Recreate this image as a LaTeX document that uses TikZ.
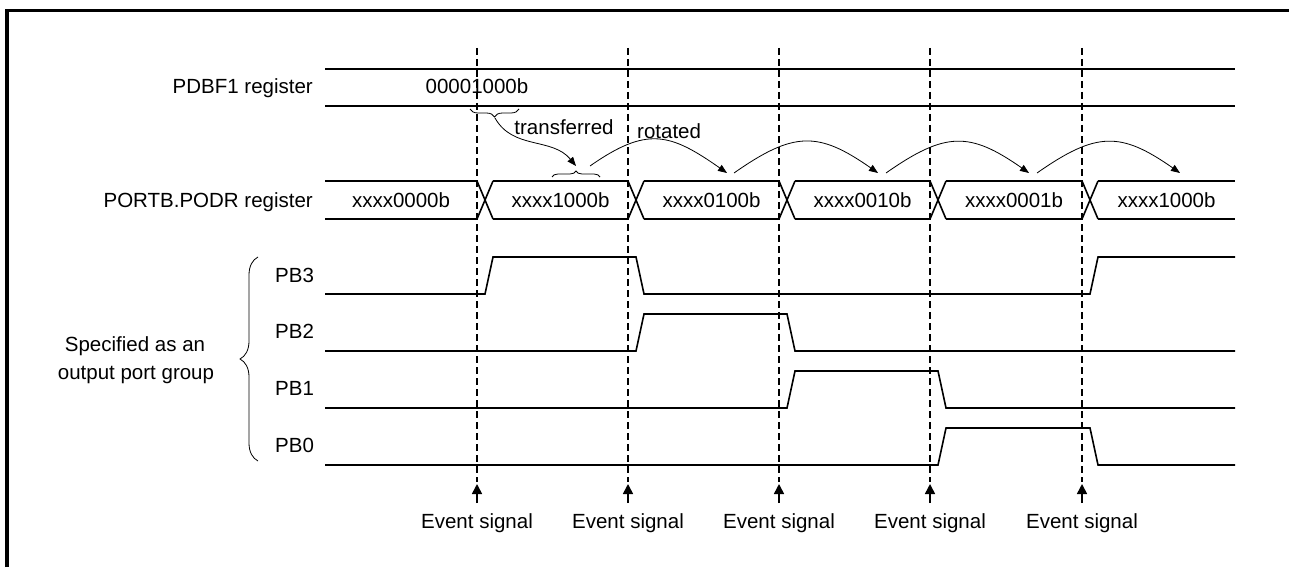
\documentclass[tikz,border=0pt]{standalone}
\usepackage{fontspec}
\setmainfont{Liberation Sans}
\usetikzlibrary{arrows.meta,decorations.pathreplacing}
\tikzset{wave/.style={line width=1.6pt},
  evline/.style={line width=1.6pt, dash pattern=on 7pt off 4pt},
  thinarr/.style={line width=0.8pt, -{Triangle[length=9pt,width=7pt]}},
  evarr/.style={line width=1.6pt, -{Triangle[length=10pt,width=10pt]}},
  brc/.style={decorate, decoration={brace, amplitude=#1}, line width=0.8pt},
  txt/.style={font=\fontsize{20.5}{24}\selectfont, inner sep=0pt}}

\begin{document}
\begin{tikzpicture}[x=1pt,y=1pt]
  \useasboundingbox (0,0) rectangle (1289,-567);
  \draw[line width=3.5pt] (7,-567) -- (7,-10.5) -- (1289,-10.5); % frame, top and left only

  % event lines, arrows and labels
  \foreach \x [count=\i] in {477,628,779,930,1082} {
    \draw[evline] (\x,-48) -- (\x,-482);
    \coordinate (es\i) at (\x,-503);
    \coordinate (et\i) at (\x,-484);
    \draw[evarr] (es\i) -- (et\i);
    \node[txt, anchor=base] (ev\i) at (\x,-528) {Event signal};
  }

  % PDBF1 register
  \draw[wave] (325,-69) -- (1235,-69) (325,-106) -- (1235,-106);
  \node[txt, anchor=base east] (pdbf) at (313,-94) {PDBF1 register};
  \node[txt, anchor=base] (pdbfval) at (477,-94) {00001000b};

  % PORTB.PODR register
  \node[txt, anchor=base east] (podr) at (313,-207) {PORTB.PODR register};
  \foreach \a/\b/\v [count=\i] in {325/477/xxxx0000b, 493/628/xxxx1000b, 644/779/xxxx0100b,
      795/930/xxxx0010b, 946/1082/xxxx0001b, 1098/1235/xxxx1000b} {
    \draw[wave] (\a,-181) -- (\b,-181) (\a,-219) -- (\b,-219);
    \node[txt, anchor=base] (val\i) at ({(\a+\b)/2},-207) {\v};
  }
  \foreach \x in {477,628,779,930,1082}
    \draw[wave] (\x,-181) -- (\x+16,-219) (\x,-219) -- (\x+16,-181); % bus change

  % transferred
  \draw[brc=8] (519,-109) -- (470,-109);
  \draw[brc=6] (552,-177) -- (600,-177);
  \coordinate (tfrom) at (495,-118);
  \coordinate (tto) at (576,-166);
  \draw[thinarr] (tfrom) .. controls (513,-150) and (552,-137) .. (tto);
  \node[txt, anchor=base] (tlbl) at (564,-135) {transferred};

  % rotated
  \node[txt, anchor=base west] (rlbl) at (637,-138) {rotated};
  \foreach \a/\ay/\b [count=\i] in {590/166/727, 734/173/878, 886/173/1029, 1037/173/1180} {
    \coordinate (rs\i) at (\a,-\ay);
    \coordinate (re\i) at (\b,-173);
    \draw[thinarr] (rs\i) to[out=35,in=145,looseness=1.3] (re\i);
  }

  % output port group
  \draw[wave] (325,-294) -- (485,-294) -- (493,-257) -- (636,-257) -- (644,-294)
    -- (1090,-294) -- (1098,-257) -- (1235,-257); % PB3
  \draw[wave] (325,-351) -- (636,-351) -- (644,-314) -- (787,-314) -- (795,-351)
    -- (1235,-351); % PB2
  \draw[wave] (325,-408) -- (787,-408) -- (795,-371) -- (938,-371) -- (946,-408)
    -- (1235,-408); % PB1
  \draw[wave] (325,-465) -- (938,-465) -- (946,-428) -- (1090,-428) -- (1098,-465)
    -- (1235,-465); % PB0
  \foreach \n/\y in {3/282, 2/338, 1/395, 0/452}
    \node[txt, anchor=base west] (pb\n) at (275,-\y) {PB\n};
  \draw[brc=18] (258,-461) -- (258,-257);
  \node[txt, anchor=base] (grp1) at (135,-351) {Specified as an};
  \node[txt, anchor=base] (grp2) at (136,-379) {output port group};
\end{tikzpicture}
\end{document}
